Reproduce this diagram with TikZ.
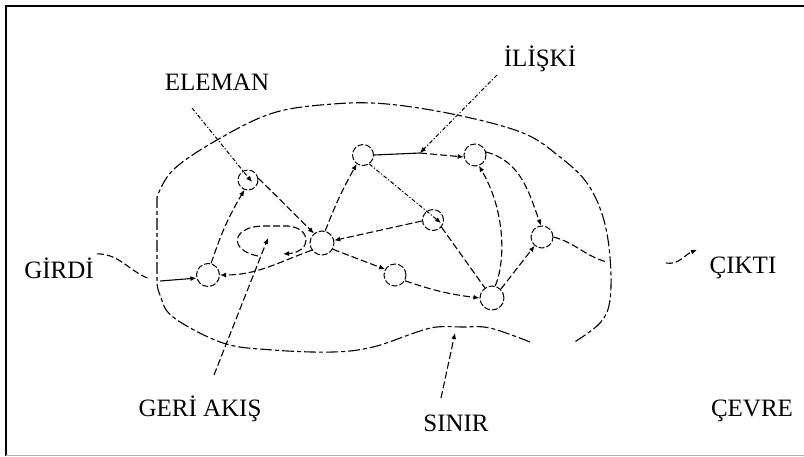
\documentclass[tikz,border=0pt]{standalone}
\usepackage{fontspec}
\setmainfont{Liberation Serif}
\usetikzlibrary{arrows.meta,calc}
\begin{document}
\begin{tikzpicture}[x=1pt,y=-1pt,
  lbl/.style={inner sep=0pt,anchor=base,font=\fontsize{25}{30}\selectfont},
  elem/.style={circle,draw,line width=1pt,dash pattern=on 6pt off 2pt,inner sep=0pt},
  dsh/.style={line width=1.1pt,dash pattern=on 7pt off 3pt},
  ddot/.style={line width=1pt,dash pattern=on 4pt off 2pt on 1.2pt off 2pt},
  tip/.style={-{Latex[length=6pt,width=5pt]}},
  bnd/.style={line width=1.1pt,dash pattern=on 12pt off 3pt on 4pt off 3pt}]
\useasboundingbox (0,0) rectangle (804,456);
\fill[white] (0,0) rectangle (804,456);
% frame
\draw[line width=2pt] (6,456) -- (6,6) -- (804,6);
\draw[line width=1pt,gray!60] (6,455) -- (804,455);

% labels
\node[lbl] (eleman) at (217,90) {ELEMAN};
\node[lbl] (iliski) at (540,66) {İLİŞKİ};
\node[lbl] (girdi) at (59,278) {GİRDİ};
\node[lbl] (geri) at (200,416) {GERİ AKIŞ};
\node[lbl] (sinir) at (456,431) {SINIR};
\node[lbl] (cikti) at (743,273) {ÇIKTI};
\node[lbl] (cevre) at (752,416) {ÇEVRE};

% elements
\node[elem,minimum size=20pt] (E1) at (248,180) {};
\node[elem,minimum size=23pt] (A) at (208,275) {};
\node[elem,minimum size=24pt] (C) at (322,243) {};
\node[elem,minimum size=21pt] (T) at (363,155) {};
\node[elem,minimum size=22pt] (R1) at (475,155) {};
\node[elem,minimum size=21pt] (M) at (433,220) {};
\node[elem,minimum size=22pt] (R2) at (542,237) {};
\node[elem,minimum size=22pt] (L2) at (395,275) {};
\node[elem,minimum size=24pt] (B) at (492,298) {};

% boundary
\draw[bnd] plot[smooth,tension=0.6] coordinates {(530,342) (490,328) (462,327) (437,327) (417,332) (373,347) (333,352) (273,350) (223,343) (173,317) (160,295) (157,283)}
  -- plot[smooth,tension=0.6] coordinates {(157,197) (173,170) (217,140) (273,113) (333,104) (387,104) (457,115) (523,133) (560,157) (587,183) (603,217) (610,257) (610,300) (600,323) (573,343)};

% named free ends
\coordinate (gin) at (150,279);
\coordinate (in0) at (160,281);
\coordinate (elS) at (192,108);
\coordinate (ilS) at (497,75);
\coordinate (trel) at (420,153);
\coordinate (out1) at (607,262);
\coordinate (cikS) at (666,263);
\coordinate (cikE) at (697,250);
\coordinate (gaS) at (214,375);
\coordinate (gaE) at (268,238);
\coordinate (snS) at (441,398);
\coordinate (snE) at (455,333);
\coordinate (tm) at (441,223);
\coordinate (e1c) at (252,182);

% input
\draw[dsh] (girdi.east) ++(3,-14) to[out=0,in=160] (gin);
\draw[line width=1.1pt,tip] (in0) -- (A.195);
% connectors
\draw[dsh,tip] (C.215) to[out=200,in=0] (A.east);
\draw[dsh,tip] (A.75) to[bend left=6] (E1.250);
\draw[ddot,tip] (elS) -- (e1c);
\draw[dsh,tip] (E1.10) -- (C.130);
\draw[dsh,tip] (C.75) to[bend left=4] (T.235);
\draw[line width=1.1pt] (T.east) -- (trel);
\draw[dsh,tip] (trel) -- (R1.190);
\draw[ddot,tip] (ilS) -- (trel);
\draw[ddot,tip] (T.305) -- (tm);
\draw[dsh] (M.320) -- (B.125);
\draw[dsh,tip] (M.185) -- (C.12);
\draw[dsh,tip] (C.330) -- (L2.150);
\draw[dsh,tip] (L2.330) to[bend right=6] (B.west);
\draw[dsh,tip] (B.75) .. controls (506,260) and (505,210) .. (R1.290);
\draw[dsh,tip] (R1.15) to[out=-15,in=110] (R2.95);
\draw[dsh,tip] (B.45) -- (R2.230);
\draw[dsh] (R2.east) to[out=-15,in=165] (out1);
\draw[dsh,tip] (cikS) to[out=-10,in=200] (cikE);
% feedback loop
\draw[dsh,tip] (258,256) .. controls (228,250) and (232,227) .. (262,226) -- (288,226) .. controls (312,228) and (312,252) .. (283,254);
\draw[dsh,tip] (gaS) -- (gaE);
\draw[dsh,tip] (snS) -- (snE);
\end{tikzpicture}
\end{document}
